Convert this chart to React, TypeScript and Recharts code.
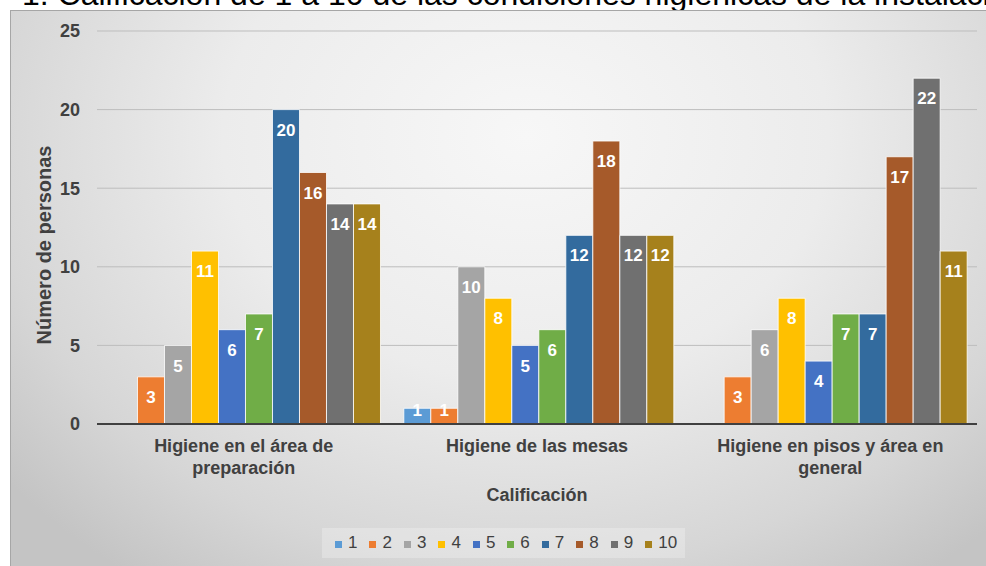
import { Bar, BarChart, CartesianGrid, Label, LabelList, Legend, Text, XAxis, YAxis } from "recharts";

const categories = [
  "Higiene en el área de preparación",
  "Higiene de las mesas",
  "Higiene en pisos y área en general",
];

const ratings = ["1", "2", "3", "4", "5", "6", "7", "8", "9", "10"];

// personas por calificación, en el orden de categories
const rating1 = [0, 1, 0];
const rating2 = [3, 1, 3];
const rating3 = [5, 10, 6];
const rating4 = [11, 8, 8];
const rating5 = [6, 5, 4];
const rating6 = [7, 6, 7];
const rating7 = [20, 12, 7];
const rating8 = [16, 18, 17];
const rating9 = [14, 12, 22];
const rating10 = [14, 12, 11];

const yTicks = [0, 5, 10, 15, 20, 25];

const seriesValues = [
  rating1, rating2, rating3, rating4, rating5,
  rating6, rating7, rating8, rating9, rating10,
];

const palette = [
  "#5B9BD5", "#ED7D31", "#A5A5A5", "#FFC000", "#4472C4",
  "#70AD47", "#336B9E", "#A65A2A", "#707070", "#A6811C",
];

const font = '"Liberation Sans", Arial, sans-serif';
const textColor = "#404040";

const data = categories.map((name, i) => {
  const row: Record<string, string | number> = { name };
  ratings.forEach((r, j) => {
    row[`r${r}`] = seriesValues[j][i];
  });
  return row;
});

function CategoryTick({ x, y, payload }: any) {
  return (
    <Text
      x={x}
      y={y + 7}
      width={250}
      textAnchor="middle"
      verticalAnchor="start"
      lineHeight={22}
      fill={textColor}
      fontSize={18}
      fontWeight="bold"
      fontFamily={font}
      style={{ fontSize: 18, fontWeight: "bold", fontFamily: font }}
    >
      {payload.value}
    </Text>
  );
}

function BarValue(props: any) {
  const vb = props.viewBox ?? props;
  const { x, y, width, height } = vb;
  const value = Number(props.value);
  if (!value) return null;
  const cy = Math.min(y + 20, y + height - 14);
  return (
    <text
      x={x + width / 2}
      y={cy}
      dy="0.36em"
      textAnchor="middle"
      fill="#ffffff"
      fontSize={17}
      fontWeight="bold"
      fontFamily={font}
    >
      {value}
    </text>
  );
}

function LegendContent({ payload }: any) {
  const items = [...(payload ?? [])].sort(
    (a: any, b: any) => Number(a.value) - Number(b.value)
  );
  return (
    <div
      style={{
        display: "flex",
        alignItems: "center",
        height: 30,
        paddingLeft: 13,
        boxSizing: "border-box",
        background: "rgba(255,255,255,0.25)",
      }}
    >
      {items.map((entry: any) => (
        <span
          key={entry.value}
          style={{ display: "flex", alignItems: "center", marginRight: 12 }}
        >
          <span
            style={{
              width: 7,
              height: 7,
              background: entry.color,
              marginRight: 6,
              marginTop: 3,
            }}
          />
          <span style={{ fontSize: 17, color: textColor, fontFamily: font }}>
            {entry.value}
          </span>
        </span>
      ))}
    </div>
  );
}

export default function App() {
  return (
    <div
      style={{
        position: "absolute",
        left: 0,
        top: 0,
        width: 986,
        height: 566,
        overflow: "hidden",
        background: "#ffffff",
      }}
    >
      <div
        style={{
          position: "absolute",
          left: 22,
          top: -22,
          fontFamily: font,
          fontSize: 32,
          lineHeight: "32px",
          whiteSpace: "nowrap",
          color: "#000",
        }}
      >
        1: Calificación de 1 a 10 de las condiciones higiénicas de la instalación
      </div>
      <div
        style={{
          position: "absolute",
          left: 10,
          top: 10,
          width: 990,
          height: 570,
          border: "1px solid #a6a6a6",
          background:
            "radial-gradient(ellipse 68% 95% at 52% 22%, #f7f7f7 0%, #ececec 45%, #d6d6d6 80%, #c4c4c4 100%)",
        }}
      />
      <div style={{ position: "absolute", left: 0, top: 0 }}>
        <BarChart
          width={986}
          height={566}
          data={data}
          margin={{ top: 31, right: 9, bottom: 112, left: 0 }}
          barCategoryGap="4.6%"
          barGap={0}
        >
          <CartesianGrid vertical={false} stroke="#bdbdbd" />
          <XAxis
            dataKey="name"
            height={30}
            interval={0}
            tickLine={false}
            axisLine={{ stroke: "#404040", strokeWidth: 2 }}
            tick={<CategoryTick />}
          >
            <Label
              content={(p: any) => {
                const vb = p.viewBox;
                return (
                  <text
                    x={vb.x + vb.width / 2}
                    y={vb.y + 71}
                    dy="0.36em"
                    textAnchor="middle"
                    fill={textColor}
                    fontSize={18}
                    fontWeight="bold"
                    fontFamily={font}
                  >
                    Calificación
                  </text>
                );
              }}
            />
          </XAxis>
          <YAxis
            width={97}
            domain={[0, 25]}
            ticks={yTicks}
            tickLine={false}
            axisLine={false}
            tickMargin={11}
            tick={{ fill: textColor, fontSize: 18, fontWeight: "bold", fontFamily: font }}
          >
            <Label
              content={() => (
                <text
                  x={44}
                  y={245}
                  transform="rotate(-90 44 245)"
                  textAnchor="middle"
                  dominantBaseline="central"
                  fill={textColor}
                  fontSize={20}
                  fontWeight="bold"
                  fontFamily={font}
                >
                  Número de personas
                </text>
              )}
            />
          </YAxis>
          <Legend
            verticalAlign="middle"
            align="center"
            wrapperStyle={{ top: 528, left: 322, width: 363, height: 30 }}
            content={<LegendContent />}
          />
          {ratings.map((r, j) => (
            <Bar
              key={r}
              dataKey={`r${r}`}
              name={r}
              fill={palette[j]}
              stroke="#ffffff"
              strokeWidth={0.8}
              isAnimationActive={false}
            >
              <LabelList dataKey={`r${r}`} content={<BarValue />} />
            </Bar>
          ))}
        </BarChart>
      </div>
    </div>
  );
}
